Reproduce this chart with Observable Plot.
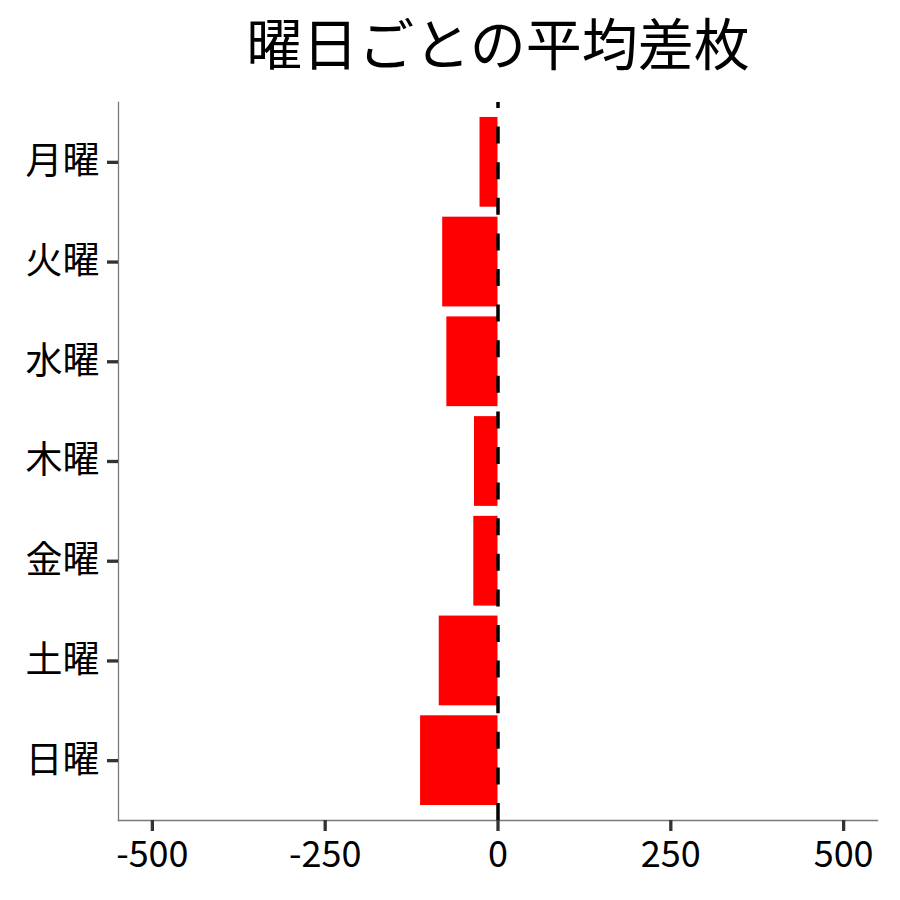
<!DOCTYPE html>
<html>
<head>
<meta charset="utf-8">
<script src="https://cdn.jsdelivr.net/npm/d3@7"></script>
<script src="https://cdn.jsdelivr.net/npm/@observablehq/plot@0.6"></script>
<style>
  html, body { margin: 0; padding: 0; background: #ffffff; }
</style>
</head>
<body>
<div id="chart"></div>
<script>
const title = "曜日ごとの平均差枚";
const days = ["月曜", "火曜", "水曜", "木曜", "金曜", "土曜", "日曜"];
const avgDiff = [-26, -80, -74, -34, -35, -85, -112];
const xTicks = [-500, -250, 0, 250, 500];
const xDomain = [-549, 549];

const data = days.map((d, i) => ({day: d, value: avgDiff[i]}));

const font = "'Noto Sans CJK JP', 'Noto Sans', sans-serif";

const chart = Plot.plot({
  width: 900,
  height: 900,
  marginLeft: 118,
  marginRight: 23,
  marginTop: 102,
  marginBottom: 80,
  style: {fontFamily: font, background: "#ffffff", color: "#000000"},
  x: {domain: xDomain, axis: null},
  y: {domain: days, type: "band", paddingInner: 0.1, paddingOuter: 0.15, round: false, axis: null},
  marks: [
    Plot.barX(data, {x: "value", y: "day", fill: "#ff0000"}),
    Plot.frame({anchor: "left", stroke: "#7a7a7a", strokeWidth: 1.3}),
    Plot.frame({anchor: "bottom", stroke: "#7a7a7a", strokeWidth: 1.3}),
    Plot.axisY({
      anchor: "left", tickSize: 11, tickPadding: 8,
      fontSize: 37, fontFamily: font,
      stroke: "#333333", strokeWidth: 3.3, fill: "#000000",
      label: null
    }),
    Plot.axisX({
      anchor: "bottom", ticks: xTicks, tickSize: 11, tickPadding: 10,
      tickFormat: d => String(d),
      fontSize: 36, fontFamily: font,
      stroke: "#333333", strokeWidth: 3.3, fill: "#000000",
      label: null
    }),
    Plot.ruleX([0], {stroke: "#000000", strokeWidth: 3.5, strokeDasharray: "17,18.6", strokeDashoffset: 11}),
    Plot.text([title], {
      text: d => d, frameAnchor: "top", dy: -55, lineAnchor: "middle",
      fontSize: 56, fontFamily: font, fill: "#000000"
    })
  ]
});

document.getElementById("chart").appendChild(chart);
</script>
</body>
</html>
